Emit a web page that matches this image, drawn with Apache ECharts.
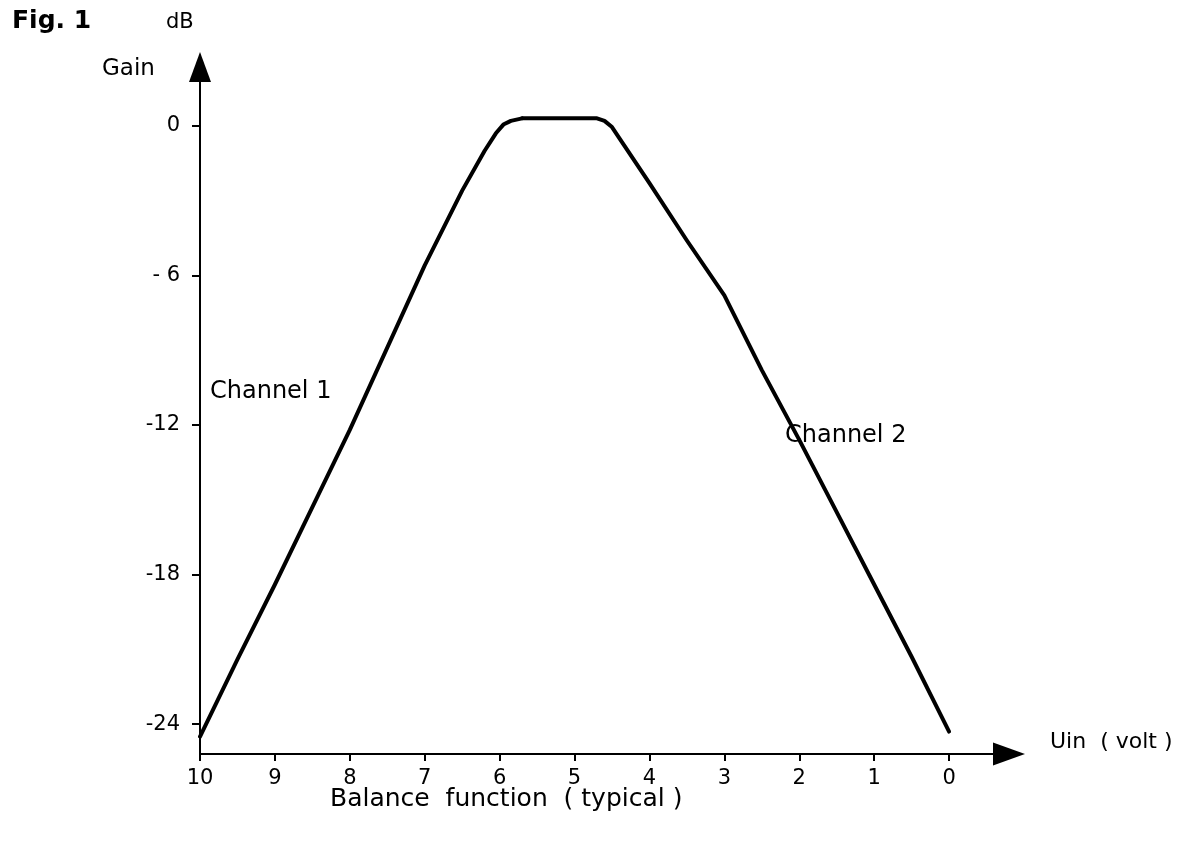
<!DOCTYPE html>
<html>
<head>
<meta charset="utf-8">
<title>Balance function</title>
<script src="https://cdn.jsdelivr.net/npm/echarts@6/dist/echarts.min.js"></script>
<style>
  html, body { margin: 0; padding: 0; background: #fff; }
  #chart { width: 1186px; height: 844px; }
</style>
</head>
<body>
<div id="chart"></div>
<script>
// Uin (volt) ticks and gain ticks (dB)
const uinTicks = [0, 1, 2, 3, 4, 5, 6, 7, 8, 9, 10];
const gainTicks = [0, -6, -12, -18, -24];

// Channel 1 (left branch) up to the flat top
const ch1Uin  = [10, 9.5, 9, 8.5, 8, 7.5, 7, 6.5, 6.2, 6.05, 5.95, 5.85, 5.7];
const ch1Gain = [-24.5, -21.4, -18.4, -15.3, -12.2, -8.9, -5.6, -2.6, -1.0, -0.3, 0.05, 0.2, 0.3];

// flat top + Channel 2 (right branch)
const ch2Uin  = [5.7, 4.7, 4.6, 4.5, 4.4, 4.0, 3.5, 3.0, 2.5, 2.0, 1.5, 1.0, 0.5, 0];
const ch2Gain = [0.3, 0.3, 0.2, -0.05, -0.5, -2.3, -4.6, -6.8, -9.8, -12.6, -15.5, -18.4, -21.3, -24.3];

const chart = echarts.init(document.getElementById('chart'));
const font = 'DejaVu Sans';

const toPairs = (xs, ys) => xs.map((x, i) => [x, ys[i]]);

const label = (text, left, top, size, bold) => ({
  type: 'text',
  left: left,
  top: top,
  style: {
    text: text,
    fontFamily: font,
    fontSize: size,
    fontWeight: bold ? 'bold' : 'normal',
    fill: '#000'
  }
});

chart.setOption({
  backgroundColor: '#fff',
  animation: false,
  textStyle: { fontFamily: font, color: '#000' },
  // axis ends sit half an arrow before the arrow tips
  grid: { left: 200, right: 177, top: 67, bottom: 90, containLabel: false },
  xAxis: {
    type: 'value',
    inverse: true,
    min: -0.8,
    max: 10,
    splitLine: { show: false },
    axisLine: {
      onZero: false,
      symbol: ['none', 'triangle'],
      symbolSize: [23, 32],
      lineStyle: { color: '#000', width: 2 }
    },
    axisTick: { show: true, length: 7, customValues: uinTicks, lineStyle: { color: '#000', width: 2 } },
    axisLabel: { customValues: uinTicks, margin: 14, fontSize: 21, color: '#000', fontFamily: font }
  },
  yAxis: {
    type: 'value',
    min: -25.2,
    max: 2.36,
    splitLine: { show: false },
    axisLine: {
      onZero: false,
      symbol: ['none', 'triangle'],
      symbolSize: [22, 30],
      lineStyle: { color: '#000', width: 2 }
    },
    axisTick: { show: true, length: 8, customValues: gainTicks, lineStyle: { color: '#000', width: 2 } },
    axisLabel: {
      customValues: gainTicks,
      margin: 20,
      fontSize: 21,
      color: '#000',
      fontFamily: font,
      formatter: v => (v === -6 ? '- 6' : String(v))
    }
  },
  series: [
    {
      name: 'Channel 1',
      type: 'line',
      data: toPairs(ch1Uin, ch1Gain),
      showSymbol: false,
      lineStyle: { color: '#000', width: 4, join: 'round', cap: 'round' }
    },
    {
      name: 'Channel 2',
      type: 'line',
      data: toPairs(ch2Uin, ch2Gain),
      showSymbol: false,
      lineStyle: { color: '#000', width: 4, join: 'round', cap: 'round' }
    }
  ],
  graphic: [
    label('Fig. 1', 12, 9, 25, true),
    label('dB', 166, 12, 21),
    label('Gain', 102, 58, 23),
    label('Channel 1', 210, 380, 24),
    label('Channel 2', 785, 424, 24),
    label('Uin  ( volt )', 1050, 731, 22),
    label('Balance  function  ( typical )', 330, 787, 25)
  ]
});
</script>
</body>
</html>
